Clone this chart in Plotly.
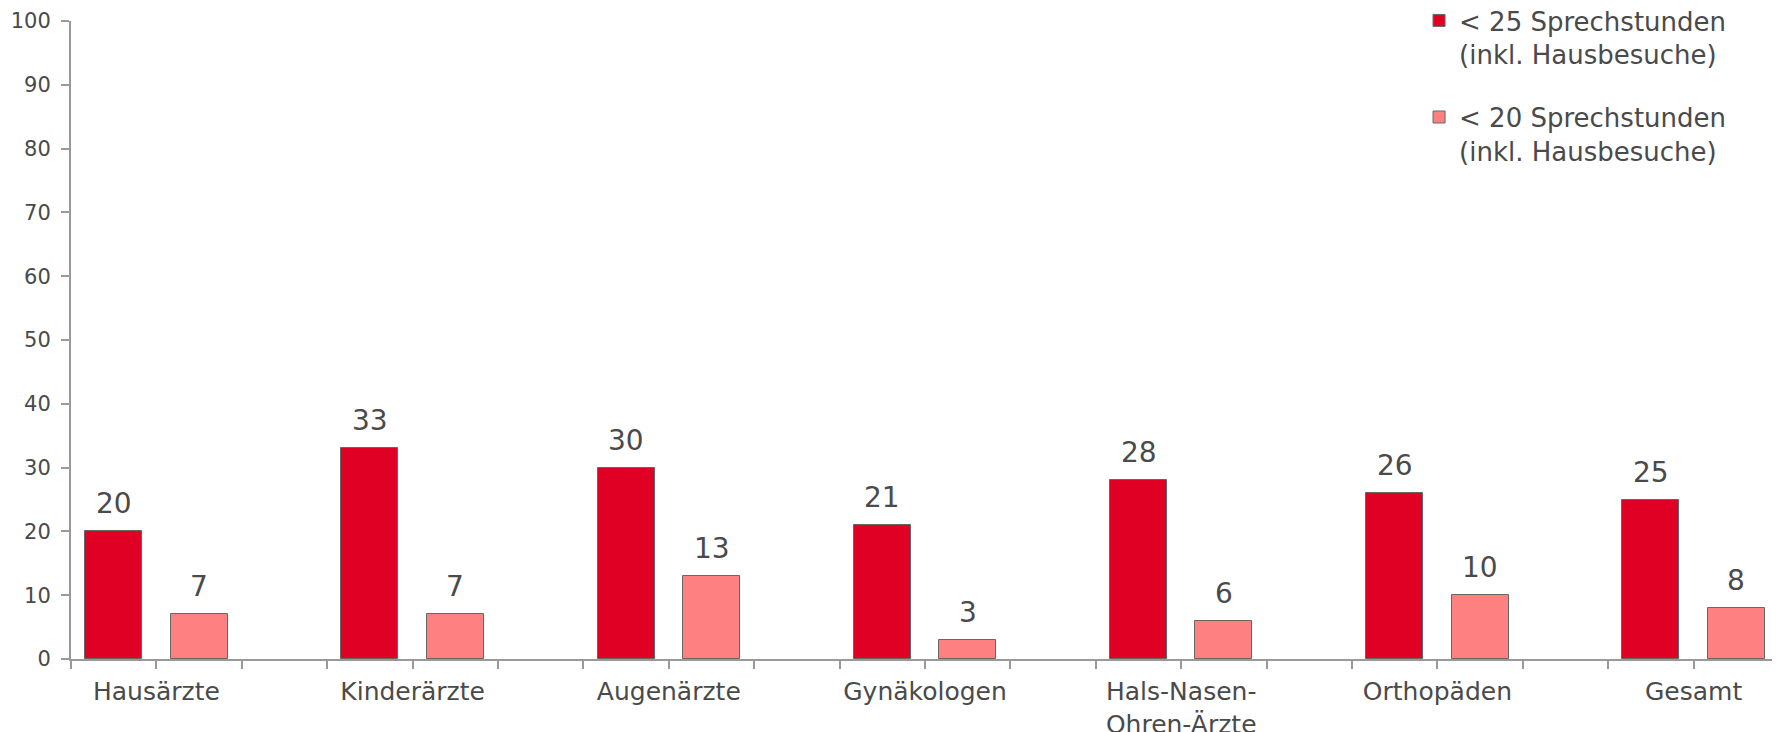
import plotly.graph_objects as go

categories = ["Hausärzte", "Kinderärzte", "Augenärzte", "Gynäkologen",
              "Hals-Nasen-<br>Ohren-Ärzte", "Orthopäden", "Gesamt"]
series_25 = [20, 33, 30, 21, 28, 26, 25]
series_20 = [7, 7, 13, 3, 6, 10, 8]
name_25 = "< 25 Sprechstunden<br>(inkl. Hausbesuche)"
name_20 = "< 20 Sprechstunden<br>(inkl. Hausbesuche)"
y_ticks = list(range(0, 101, 10))

RED = "#E00024"
PINK = "#FF8080"
TXT = "#4a4a4a"
AX = "#999999"
FONT = "DejaVu Sans"

slot = 3
x_red = [slot * i + 0.5 for i in range(len(categories))]
x_pink = [slot * i + 1.5 for i in range(len(categories))]
x_lab = [slot * i + 1 for i in range(len(categories))]

fig = go.Figure()
fig.add_trace(go.Bar(x=x_red, y=series_25, width=0.667, name=name_25,
                     marker=dict(color=RED, line=dict(color="#666666", width=1)),
                     legendgroup="a"))
fig.add_trace(go.Bar(x=x_pink, y=series_20, width=0.667, name=name_20,
                     marker=dict(color=PINK, line=dict(color="#666666", width=1)),
                     legendgroup="b"))

for xs, ys in ((x_red, series_25), (x_pink, series_20)):
    for x, y in zip(xs, ys):
        fig.add_annotation(x=x, y=y, text=str(y), showarrow=False,
                           yanchor="bottom", yshift=9,
                           font=dict(family=FONT, size=28, color=TXT))

fig.update_layout(
    width=1772, height=724,
    margin=dict(l=63, r=1, t=13, b=73, autoexpand=False),
    plot_bgcolor="white", paper_bgcolor="white",
    font=dict(family=FONT, color=TXT),
    showlegend=True,
    legend=dict(xref="container", yref="paper", x=0.7963, y=1.0376,
                xanchor="left", yanchor="top", valign="top",
                tracegroupgap=26, font=dict(family=FONT, size=26, color=TXT),
                bgcolor="rgba(0,0,0,0)"),
    bargap=0,
)
fig.update_xaxes(range=[0, 20], tickvals=x_lab, ticktext=categories,
                 ticks="outside", ticklen=8, tickcolor=AX, tickwidth=1.5,
                 showline=True, linecolor=AX, linewidth=2, showgrid=False,
                 zeroline=False, tickfont=dict(family=FONT, size=25, color=TXT),
                 ticklabelstandoff=1, automargin=False,
                 minor=dict(ticks="outside", ticklen=8, tick0=0, dtick=1,
                            tickcolor=AX, tickwidth=1.5, showgrid=False))
fig.update_yaxes(range=[0, 100], tickvals=y_ticks,
                 ticks="outside", ticklen=8, tickcolor=AX, tickwidth=1.5,
                 showline=True, linecolor=AX, linewidth=2, showgrid=False,
                 zeroline=False, tickfont=dict(family=FONT, size=21, color=TXT),
                 ticklabelstandoff=6, automargin=False)

fig.write_html("out.html")
